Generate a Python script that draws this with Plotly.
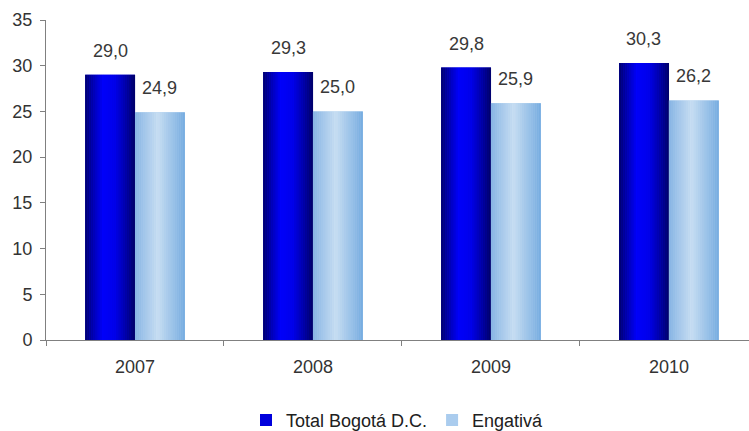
import plotly.graph_objects as go

years = ["2007", "2008", "2009", "2010"]
bogota = [29.0, 29.3, 29.8, 30.3]
engativa = [24.9, 25.0, 25.9, 26.2]
series_names = ["Total Bogotá D.C.", "Engativá"]
y_ticks = [0, 5, 10, 15, 20, 25, 30, 35]

BAR_W = 0.28
N_STRIPS = 24


def lerp_color(stops, t):
    for (p0, c0), (p1, c1) in zip(stops, stops[1:]):
        if p0 <= t <= p1:
            f = (t - p0) / (p1 - p0) if p1 > p0 else 0
            c = [round(a + (b - a) * f) for a, b in zip(c0, c1)]
            return "rgb(%d,%d,%d)" % tuple(c)
    return "rgb(%d,%d,%d)" % stops[-1][1]


dark_stops = [(0.0, (0, 0, 110)), (0.35, (0, 0, 250)), (0.6, (0, 0, 235)), (1.0, (0, 0, 105))]
light_stops = [(0.0, (135, 180, 228)), (0.45, (200, 222, 242)), (1.0, (118, 172, 224))]

fig = go.Figure()


def add_series(vals, name, base_color, stops, start):
    fig.add_trace(go.Bar(
        x=years, y=vals, name=name, marker=dict(color=base_color, line=dict(width=0)),
        width=BAR_W, offset=start, hoverinfo="skip"))
    w = BAR_W / N_STRIPS
    for i in range(N_STRIPS):
        t = (i + 0.5) / N_STRIPS
        fig.add_trace(go.Bar(
            x=years, y=vals, showlegend=False,
            marker=dict(color=lerp_color(stops, t), line=dict(width=0)),
            width=w * 1.05, offset=start + i * w, hoverinfo="skip"))


add_series(bogota, series_names[0], "rgb(0,0,220)", dark_stops, -BAR_W)
add_series(engativa, series_names[1], "rgb(170,204,238)", light_stops, 0.0)

for i, (a, b) in enumerate(zip(bogota, engativa)):
    for xo, v in ((i - BAR_W / 2, a), (i + BAR_W / 2, b)):
        fig.add_annotation(x=xo, y=v, text=f"{v:.1f}".replace(".", ","),
                           showarrow=False, yanchor="bottom", yshift=12,
                           font=dict(size=18, color="#383838", family="Liberation Sans"))

fig.update_layout(
    width=749, height=431,
    margin=dict(l=46, r=0, t=20, b=91, autoexpand=False),
    paper_bgcolor="white", plot_bgcolor="white",
    barmode="overlay",
    font=dict(family="Liberation Sans", size=18, color="#383838"),
    showlegend=True,
    legend=dict(orientation="h", x=0.5, xanchor="center", yref="container",
                y=0.025, yanchor="middle",
                font=dict(size=18, color="#202020"), itemwidth=30, tracegroupgap=0),
    xaxis=dict(type="category", range=[-0.5, 3.45], showline=True, linecolor="#808080",
               linewidth=1, ticks="outside", ticklen=5, tickcolor="#808080",
               tickson="boundaries", showgrid=False, zeroline=False,
               tickfont=dict(size=18, color="#333333"), ticklabelstandoff=10,
               automargin=False),
    yaxis=dict(range=[0, 35], tickvals=y_ticks, showline=True, linecolor="#808080",
               linewidth=1, ticks="outside", ticklen=5, tickcolor="#808080",
               showgrid=False, zeroline=False, ticklabelstandoff=4, automargin=False,
               tickfont=dict(size=18, color="#333333")),
)

fig.write_html("out.html")
